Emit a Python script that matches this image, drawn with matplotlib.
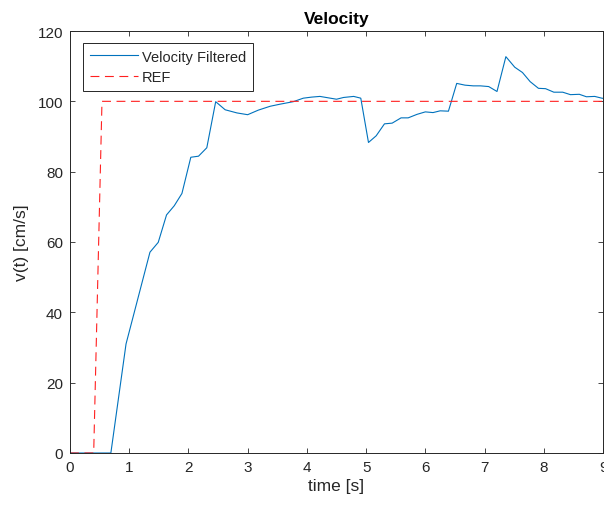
import matplotlib
matplotlib.use('Agg')
import matplotlib.pyplot as plt

plt.rcParams['font.family'] = ['Liberation Sans', 'DejaVu Sans']

# filtered velocity
time_vel = [0, 0.69, 0.946, 1.35, 1.49, 1.63, 1.76, 1.89, 2.04, 2.17, 2.31, 2.46, 2.62, 2.82, 3.0,
            3.18, 3.38, 3.55, 3.77, 3.94, 4.08, 4.22, 4.36, 4.50, 4.62, 4.79, 4.91, 5.04, 5.17, 5.31,
            5.44, 5.59, 5.71, 5.86, 6.0, 6.13, 6.25, 6.39, 6.53, 6.67, 6.81, 6.93, 7.07, 7.21,
            7.36, 7.51, 7.64, 7.77, 7.91, 8.03, 8.17, 8.32, 8.45, 8.60, 8.72, 8.86, 8.98, 9.1]
vel_filtered = [0, 0, 31.0, 57.1, 59.9, 67.7, 70.3, 73.8, 84.1, 84.4, 86.8, 99.9, 97.6, 96.7, 96.2,
                97.5, 98.6, 99.2, 99.9, 100.9, 101.2, 101.4, 101.0, 100.6, 101.1, 101.4, 100.9, 88.3, 90.2, 93.6,
                93.8, 95.3, 95.3, 96.3, 97.0, 96.8, 97.3, 97.2, 105.1, 104.6, 104.4, 104.4, 104.2, 102.8,
                112.7, 109.7, 108.2, 105.6, 103.7, 103.6, 102.6, 102.6, 101.9, 102.0, 101.3, 101.4, 100.9, 100.6]

# reference step
time_ref = [0, 0.4, 0.54, 9.1]
vel_ref = [0, 0, 100, 100]

xticks = list(range(0, 10))
yticks = list(range(0, 121, 20))

dark = '#262626'

fig = plt.figure(figsize=(6.04, 5.06), dpi=100)
ax = fig.add_axes([70 / 604, 52 / 506, 533 / 604, 422 / 506])

ax.plot(time_vel, vel_filtered, color='#0072BD', linewidth=0.8, label='Velocity Filtered')
ax.plot(time_ref, vel_ref, color='#FF2020', linewidth=0.8, dashes=(8, 5), label='REF')

ax.set_xlim(0, 9)
ax.set_ylim(0, 120)
ax.set_xticks(xticks)
ax.set_yticks(yticks)
ax.tick_params(direction='in', top=True, right=True, length=3.5, width=0.6,
               colors=dark, labelsize=11, pad=5)
for sp in ax.spines.values():
    sp.set_color(dark)
    sp.set_linewidth(0.7)

ax.set_title('Velocity', fontsize=12.5, fontweight='bold', color='black', pad=6)
ax.set_xlabel('time [s]', fontsize=12.5, color=dark, labelpad=3)
ax.set_ylabel('v(t) [cm/s]', fontsize=12.5, color=dark, labelpad=6)

leg = ax.legend(loc='upper left', bbox_to_anchor=(13 / 533, 1 - 12 / 422), borderaxespad=0,
                fontsize=10.5, handlelength=3.3, handletextpad=0.3, labelspacing=0.45,
                borderpad=0.45, fancybox=False, framealpha=1)
leg.get_frame().set_edgecolor(dark)
leg.get_frame().set_linewidth(0.7)
for t in leg.get_texts():
    t.set_color(dark)

plt.savefig('out.png', dpi=100)
